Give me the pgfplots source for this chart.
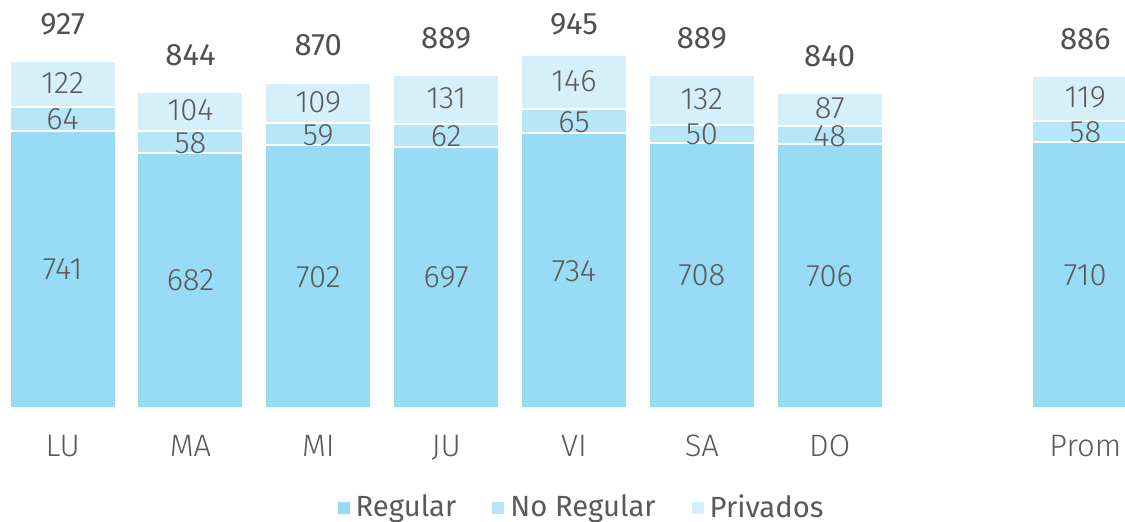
\documentclass[border=0pt]{standalone}
\usepackage{pgfplots}
\pgfplotsset{compat=1.18}
\usepackage{pgfplotstable}
\usepackage{fontspec}
\setmainfont{Fira Sans}
\newfontfamily\lightfont{Fira Sans Light}
\definecolor{creg}{HTML}{97DBF5}
\definecolor{cno}{HTML}{B6E6F7}
\definecolor{cpriv}{HTML}{D5F0FB}
\definecolor{cgray}{HTML}{595959}
\definecolor{ctot}{HTML}{505050}
\pgfplotstableread{
x reg noreg priv tot
0 741 64 122 927
1 682 58 104 844
2 702 59 109 870
3 697 62 131 889
4 734 65 146 945
5 708 50 132 889
6 706 48 87 840
8 710 58 119 886
}\data
\begin{document}
\begin{tikzpicture}
\pgfplotsset{myax/.style={scale only axis, width=562.5pt, height=204pt,
  xmin=-0.49, xmax=8.31, ymin=0, ymax=1091, at={(0,0)}, anchor=south west, clip=false}}
\begin{axis}[myax, ybar stacked, bar width=53pt,
  axis line style={draw=none}, ymajorticks=false,
  xtick={0,1,2,3,4,5,6,8}, xticklabels={LU,MA,MI,JU,VI,SA,DO,Prom},
  major tick length=0pt,
  xticklabel style={font=\lightfont\fontsize{15.5}{18}\selectfont, text=cgray, anchor=base, yshift=-24.5pt},
  legend columns=3,
  legend style={draw=none, fill=none, at={(0.517,-0.243)}, anchor=center,
    font=\fontsize{14.6}{17}\selectfont, text=cgray,
    /tikz/every even column/.append style={column sep=15pt}},
  legend cell align=left,
  legend image code/.code={\fill[#1] (0pt,-3.8pt) rectangle (7pt,3.2pt);},
]
\addplot[fill=creg, draw=white, line width=1pt] table[x=x, y=reg] {\data};
\addplot[fill=cno, draw=white, line width=1pt] table[x=x, y=noreg] {\data};
\addplot[fill=cpriv, draw=white, line width=1pt] table[x=x, y=priv] {\data};
\legend{Regular, No Regular, Privados}
\end{axis}
\begin{axis}[myax, hide axis,
  nodes near coords, point meta=explicit symbolic,
  every node near coord/.append style={anchor=center, inner sep=0pt, font=\lightfont\fontsize{15.5}{18}\selectfont, text=cgray}]
\addplot[draw=none, mark=none] table[x=x, y expr=\thisrow{reg}/2, meta=reg] {\data};
\addplot[draw=none, mark=none] table[x=x, y expr=\thisrow{reg}+\thisrow{noreg}/2-2, meta=noreg] {\data};
\addplot[draw=none, mark=none] table[x=x, y expr=\thisrow{reg}+\thisrow{noreg}+\thisrow{priv}/2+3, meta=priv] {\data};
\addplot[draw=none, mark=none, every node near coord/.append style={font=\fontsize{15.5}{17}\selectfont, text=ctot}]
  table[x=x, y expr={min(\thisrow{tot}+100,1027)}, meta=tot] {\data};
\end{axis}
\pgfresetboundingbox
\path[use as bounding box] (0,-57pt) rectangle (562.5pt,204pt);
\end{tikzpicture}
\end{document}
